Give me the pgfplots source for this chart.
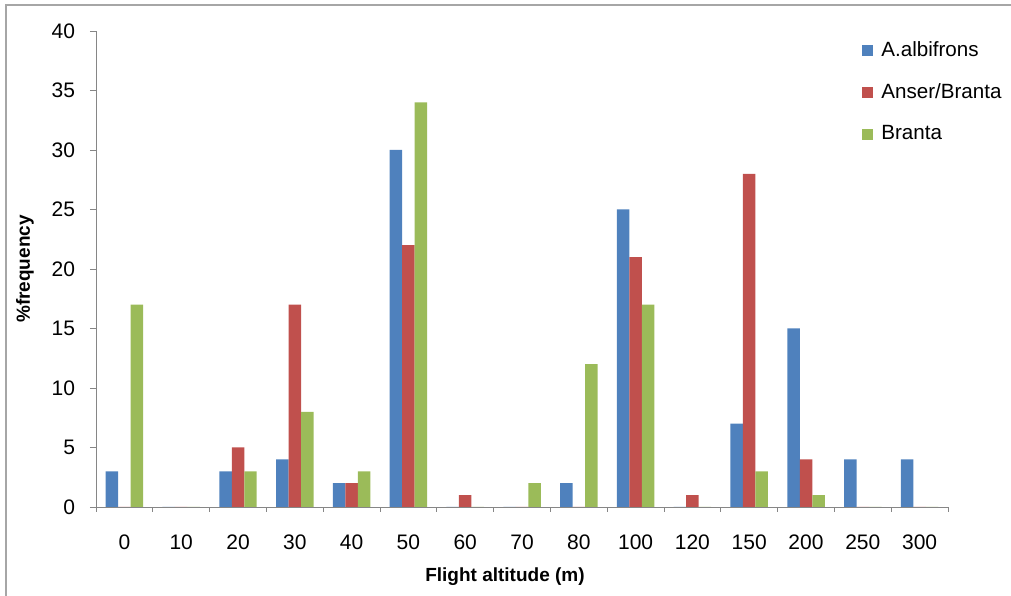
\documentclass[border=0pt]{standalone}
\usepackage{pgfplots}
\pgfplotsset{compat=1.18}
\usepackage{fontspec}
\setmainfont{Liberation Sans}

\definecolor{cblue}{HTML}{4F81BD}
\definecolor{cred}{HTML}{C0504D}
\definecolor{cgreen}{HTML}{9BBB59}
\definecolor{axgray}{HTML}{868686}

\begin{document}
\begin{tikzpicture}
\begin{axis}[
    scale only axis,
    width=426pt, height=238pt,
    ybar=0pt, bar width=0.22,
    xmin=-0.5, xmax=14.5,
    ymin=0, ymax=40,
    xtick={0,...,14},
    xticklabels={0,10,20,30,40,50,60,70,80,100,120,150,200,250,300},
    minor xtick={-0.5,0.5,...,14.5},
    x tick style={draw=none},
    minor x tick style={draw=axgray, thin},
    minor tick length=2.5pt,
    ytick={0,5,...,40},
    y tick style={draw=axgray, thin},
    major tick length=3pt,
    tick align=outside,
    axis x line*=bottom, axis y line*=left,
    axis line style={draw=axgray, thin},
    x axis line style={-}, y axis line style={-},
    tick label style={font=\fontsize{10.5}{12}\selectfont, text=black},
    x tick label style={yshift=-7.5pt},
    y tick label style={xshift=-4pt},
    /pgf/number format/assume math mode=true,
    xlabel={\textbf{Flight altitude (m)}},
    ylabel={\textbf{\%frequency}},
    label style={font=\fontsize{9.5}{11}\selectfont},
    xlabel style={at={(axis description cs:0.48,0)}, anchor=center, yshift=-35pt},
    ylabel style={at={(axis description cs:0,0.5)}, anchor=center, yshift=35.5pt},
    legend style={draw=none, at={(rel axis cs:0.899,0.987)}, anchor=north west,
        font=\fontsize{10.3}{12}\selectfont, row sep=8pt, column sep=2pt, inner sep=0pt},
    legend cell align={left},
    legend image code/.code={\fill[#1] (0pt,-2.75pt) rectangle (5.5pt,2.75pt);},
]
\path (rel axis cs:0,0) coordinate (ll) (rel axis cs:1,1) coordinate (ur);

\addplot[fill=cblue, draw=none] coordinates {
    (0,3) (1,0) (2,3) (3,4) (4,2) (5,30) (6,0) (7,0) (8,2) (9,25)
    (10,0) (11,7) (12,15) (13,4) (14,4)
};
\addlegendentry{A.albifrons}

\addplot[fill=cred, draw=none] coordinates {
    (0,0) (1,0) (2,5) (3,17) (4,2) (5,22) (6,1) (7,0) (8,0) (9,21)
    (10,1) (11,28) (12,4) (13,0) (14,0)
};
\addlegendentry{Anser/Branta}

\addplot[fill=cgreen, draw=none] coordinates {
    (0,17) (1,0) (2,3) (3,8) (4,3) (5,34) (6,0) (7,2) (8,12) (9,17)
    (10,0) (11,3) (12,1) (13,0) (14,0)
};
\addlegendentry{Branta}
\end{axis}
\pgfresetboundingbox
\path[use as bounding box] ([shift={(-48pt,-44.5pt)}]ll) rectangle ([shift={(31.5pt,15.5pt)}]ur);
\draw[color=black!35, line width=1pt]
    ([shift={(-44.75pt,-44.5pt)}]ll) -- ([shift={(-44.75pt,13pt)}]ll |- ur) -- ([shift={(31.5pt,13pt)}]ur);
\end{tikzpicture}
\end{document}
